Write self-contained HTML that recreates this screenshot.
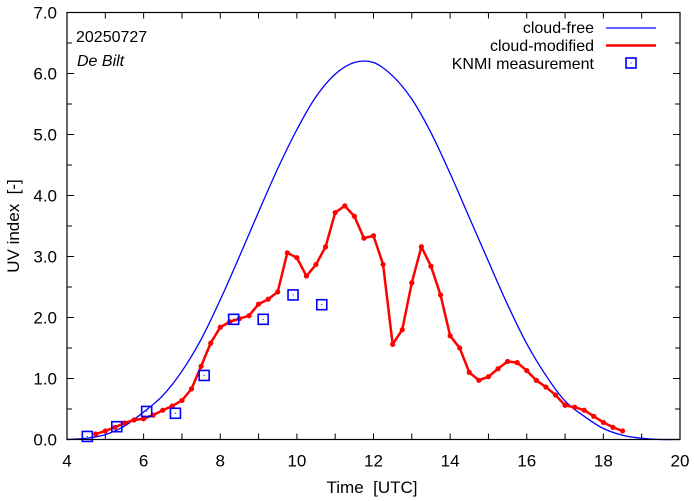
<!DOCTYPE html>
<html><head><meta charset="utf-8">
<style>
html,body{margin:0;padding:0;background:#fff;}
svg{display:block;font-family:"Liberation Sans",sans-serif;}
</style></head>
<body>
<svg id="chart" width="694" height="501" viewBox="0 0 694 501" xmlns="http://www.w3.org/2000/svg">
<rect x="0" y="0" width="694" height="501" fill="#fff"/>
<g id="grid"></g>
<g id="series"></g>
<rect x="67" y="12.5" width="613" height="427" fill="none" stroke="#000" stroke-width="1.2"/>
<text x="76" y="42" font-size="16">20250727</text>
<text x="77" y="66" font-size="16" font-style="italic">De Bilt</text>
<text x="372" y="493" font-size="17" text-anchor="middle">Time &#160;[UTC]</text>
<text transform="translate(19,226) rotate(-90)" font-size="17" text-anchor="middle">UV index &#160;[-]</text>
<g>
<text x="594" y="33" font-size="16" text-anchor="end">cloud-free</text>
<line x1="606" y1="28" x2="656" y2="28" stroke="#0000ff" stroke-width="1.3"/>
<text x="594" y="51" font-size="16" text-anchor="end">cloud-modified</text>
<line x1="606" y1="45.5" x2="656" y2="45.5" stroke="#ff0000" stroke-width="2.5"/>
<text x="594" y="69" font-size="16" text-anchor="end">KNMI measurement</text>
<rect x="626" y="58" width="10" height="10" fill="none" stroke="#0000ff" stroke-width="1.6"/>
<rect x="630.5" y="62.5" width="1" height="1" fill="#0000ff"/>
</g>
</svg>
<script>
const clearTimes = [4.0,4.5,5.0,5.5,6.0,6.5,7.0,7.5,8.0,8.5,9.0,9.5,10.0,10.5,11.0,11.5,12.0,12.5,13.0,13.5,14.0,14.5,15.0,15.5,16.0,16.5,17.0,17.5,18.0,18.5,19.0,19.5,20.0];
const clearValues = [0.0,0.02,0.08,0.22,0.45,0.72,1.12,1.64,2.29,3.0,3.73,4.44,5.08,5.62,5.99,6.18,6.18,5.96,5.58,5.03,4.36,3.64,2.92,2.21,1.57,1.05,0.63,0.38,0.18,0.07,0.02,0.0,0.0];
const cloudTimes = [4.75,5.0,5.25,5.5,5.75,6.0,6.25,6.5,6.75,7.0,7.25,7.5,7.75,8.0,8.25,8.5,8.75,9.0,9.25,9.5,9.75,10.0,10.25,10.5,10.75,11.0,11.25,11.5,11.75,12.0,12.25,12.5,12.75,13.0,13.25,13.5,13.75,14.0,14.25,14.5,14.75,15.0,15.25,15.5,15.75,16.0,16.25,16.5,16.75,17.0,17.25,17.5,17.75,18.0,18.25,18.5];
const cloudValues = [0.09,0.14,0.2,0.27,0.32,0.34,0.4,0.48,0.55,0.64,0.83,1.2,1.58,1.84,1.93,1.98,2.03,2.22,2.3,2.42,3.06,2.98,2.68,2.87,3.16,3.72,3.83,3.66,3.3,3.34,2.87,1.56,1.8,2.57,3.16,2.84,2.37,1.7,1.5,1.1,0.97,1.03,1.16,1.28,1.26,1.13,0.97,0.86,0.73,0.56,0.53,0.48,0.38,0.28,0.2,0.14];
const knmiTimes = [4.53,5.3,6.08,6.83,7.58,8.35,9.12,9.9,10.65];
const knmiValues = [0.05,0.21,0.46,0.43,1.05,1.97,1.97,2.37,2.21];
const xTickLabels = ["4","6","8","10","12","14","16","18","20"];
const yTickLabels = ["0.0","1.0","2.0","3.0","4.0","5.0","6.0","7.0"];

const NS="http://www.w3.org/2000/svg";
const X0=67,X1=680,Y0=439.5,Y1=12.5;
const xs=t=>X0+(t-4)/16*(X1-X0);
const ys=v=>Y0-v/7*(Y0-Y1);
function mk(tag,attrs,parent){const e=document.createElementNS(NS,tag);for(const k in attrs)e.setAttribute(k,attrs[k]);parent.appendChild(e);return e;}
const grid=document.getElementById('grid'), series=document.getElementById('series');

for(let h=4;h<=20;h++){
  const x=xs(h);
  const t1=mk('line',{x1:x,y1:Y0,x2:x,y2:Y0-6,stroke:'#000','stroke-width':1},grid);
  
  
  const t2=mk('line',{x1:x,y1:Y1,x2:x,y2:Y1+6,stroke:'#000','stroke-width':1},grid);
  
  
}
xTickLabels.forEach(s=>{
  const e=mk('text',{x:xs(+s),y:Y0+27,'font-size':17,'text-anchor':'middle'},grid);
  e.textContent=s;
  
  
});
for(let i=0;i<=14;i++){
  const v=i*0.5, y=ys(v), L=(i%2===0)?7:5;
  const t1=mk('line',{x1:X0,y1:y,x2:X0+L,y2:y,stroke:'#000','stroke-width':1},grid);
  
  
  const t2=mk('line',{x1:X1,y1:y,x2:X1-L,y2:y,stroke:'#000','stroke-width':1},grid);
  
  
}
yTickLabels.forEach(s=>{
  const e=mk('text',{x:X0-10,y:ys(+s)+6,'font-size':17,'text-anchor':'end'},grid);
  e.textContent=s;
  
  
});

const P=clearTimes.map((t,i)=>[xs(t),ys(clearValues[i])]);
let d='M'+P[0][0]+','+P[0][1];
for(let i=0;i<P.length-1;i++){
  const p0=P[Math.max(0,i-1)],p1=P[i],p2=P[i+1],p3=P[Math.min(P.length-1,i+2)];
  const c1=[p1[0]+(p2[0]-p0[0])/6,p1[1]+(p2[1]-p0[1])/6];
  const c2=[p2[0]-(p3[0]-p1[0])/6,p2[1]-(p3[1]-p1[1])/6];
  d+=' C'+c1[0]+','+c1[1]+' '+c2[0]+','+c2[1]+' '+p2[0]+','+p2[1];
}
const cf=mk('path',{d:d,fill:'none',stroke:'#0000ff','stroke-width':1.3},series);



const pts=cloudTimes.map((t,i)=>xs(t)+','+ys(cloudValues[i])).join(' ');
const cm=mk('polyline',{points:pts,fill:'none',stroke:'#ff0000','stroke-width':2.5,'stroke-linejoin':'round'},series);


cloudTimes.forEach((t,i)=>{
  const c=mk('circle',{cx:xs(t),cy:ys(cloudValues[i]),r:2.6,fill:'#ff0000'},series);
  
  
});

knmiTimes.forEach((t,i)=>{
  const x=xs(t),y=ys(knmiValues[i]);
  const r=mk('rect',{x:x-5,y:y-5,width:10,height:10,fill:'none',stroke:'#0000ff','stroke-width':1.6},series);
  
  
  const dot=mk('rect',{x:x-0.5,y:y-0.5,width:1,height:1,fill:'#0000ff'},series);
  
  
});
</script>
</body></html>
